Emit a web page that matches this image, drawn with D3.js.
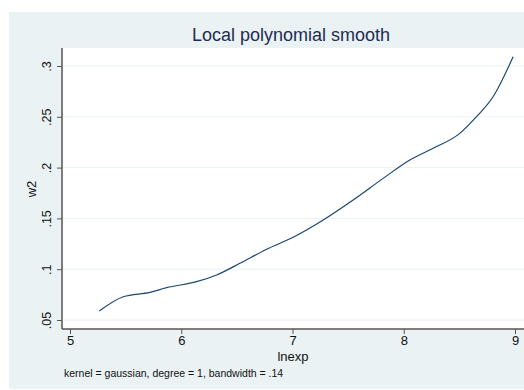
<!DOCTYPE html>
<html>
<head>
<meta charset="utf-8">
<script src="https://cdn.jsdelivr.net/npm/d3@7"></script>
<style>
  body { margin: 0; background: #fff; }
  text { font-family: "Liberation Sans", Arial, sans-serif; }
</style>
</head>
<body>
<div id="chart"></div>
<script>
// smoothed curve
const lnexp = [5.263, 5.479, 5.719, 5.869, 6.138, 6.318, 6.527, 6.767, 7.006, 7.276, 7.545, 7.815, 8.055, 8.264, 8.504, 8.654, 8.803, 8.983];
const w2    = [0.0589, 0.0729, 0.0772, 0.0818, 0.0877, 0.0943, 0.1058, 0.1196, 0.1314, 0.1484, 0.1681, 0.1894, 0.2075, 0.219, 0.2337, 0.2501, 0.2697, 0.309];
const xTicks = [5, 6, 7, 8, 9];
const yTicks = [0.05, 0.1, 0.15, 0.2, 0.25, 0.3];
const yTickLabels = [".05", ".1", ".15", ".2", ".25", ".3"];

const width = 524, height = 390;
const plot = { left: 62, right: 524, top: 48, bottom: 329 };

const svg = d3.select("#chart").append("svg")
    .attr("width", width)
    .attr("height", height);

// outer background
svg.append("rect")
    .attr("x", 9).attr("y", 12)
    .attr("width", width - 9).attr("height", 377)
    .attr("fill", "#eaf2f3");

// plot area
svg.append("rect")
    .attr("x", plot.left).attr("y", plot.top)
    .attr("width", plot.right - plot.left).attr("height", plot.bottom - plot.top)
    .attr("fill", "#fff");

const x = d3.scaleLinear().domain([5, 9]).range([70, 515]);
const y = d3.scaleLinear().domain([0.05, 0.3]).range([320, 66]);

// gridlines
svg.selectAll(".grid")
    .data(yTicks)
    .enter().append("line")
    .attr("x1", plot.left).attr("x2", plot.right)
    .attr("y1", d => y(d)).attr("y2", d => y(d))
    .attr("stroke", "#eaf2f3")
    .attr("stroke-width", 1);

// x axis
const xAxis = svg.append("g")
    .attr("transform", `translate(0,${plot.bottom})`)
    .call(d3.axisBottom(x).tickValues(xTicks).tickFormat(d3.format("d")).tickSize(5).tickPadding(2).tickSizeOuter(0));
xAxis.select(".domain").attr("d", `M${plot.left},0H${plot.right}`);

// y axis
const yAxis = svg.append("g")
    .attr("transform", `translate(${plot.left},0)`)
    .call(d3.axisLeft(y).tickValues(yTicks).tickFormat((d, i) => yTickLabels[i]).tickSize(5).tickSizeOuter(0));
yAxis.select(".domain").attr("d", `M0,${plot.top}V${plot.bottom}`);

svg.selectAll(".domain").attr("stroke", "#555").attr("stroke-width", 1.5);
svg.selectAll(".tick line").attr("stroke", "#555");
svg.selectAll(".tick text").attr("fill", "#111");
xAxis.selectAll(".tick text").attr("font-size", 13);

yAxis.selectAll(".tick text")
    .attr("font-size", 12.5)
    .attr("x", null).attr("dy", null)
    .attr("text-anchor", "middle")
    .attr("transform", "translate(-15,0) rotate(-90)")
    .attr("dy", "0.35em");

// curve
const pts = lnexp.map((v, i) => [v, w2[i]]);
svg.append("path")
    .datum(pts)
    .attr("fill", "none")
    .attr("stroke", "#1a476f")
    .attr("stroke-width", 1.2)
    .attr("d", d3.line().x(d => x(d[0])).y(d => y(d[1])).curve(d3.curveMonotoneX));

// titles
svg.append("text")
    .attr("x", 291).attr("y", 41)
    .attr("text-anchor", "middle")
    .attr("font-size", 18)
    .attr("fill", "#1e2d53")
    .text("Local polynomial smooth");

svg.append("text")
    .attr("x", 293).attr("y", 361)
    .attr("text-anchor", "middle")
    .attr("font-size", 13)
    .attr("fill", "#111")
    .text("lnexp");

svg.append("text")
    .attr("transform", "translate(36,189) rotate(-90)")
    .attr("text-anchor", "middle")
    .attr("font-size", 13)
    .attr("fill", "#111")
    .text("w2");

svg.append("text")
    .attr("x", 64).attr("y", 377)
    .attr("font-size", 10.5)
    .attr("fill", "#111")
    .text("kernel = gaussian, degree = 1, bandwidth = .14");
</script>
</body>
</html>
